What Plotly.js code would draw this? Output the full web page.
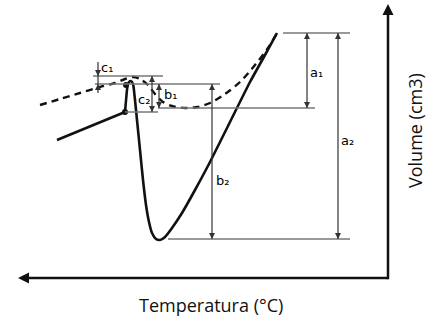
<!DOCTYPE html>
<html><head><meta charset="utf-8">
<script src="https://cdn.plot.ly/plotly-3.0.1.min.js"></script>
<style>html,body{margin:0;padding:0;background:#fff}#chart{width:446px;height:329px}</style>
</head><body><div id="chart"></div>
<script>
// Schematic units (x: temperature position, y: volume position, drawn top-down)
var heatingX = [57,125];
var heatingY = [140,112];
var solidX = [125,126.5,127.5,129,131,133,135,137,140,143,146,149,152,156,160,165,172,182,195,210,230,250,265,277];
var solidY = [112,95,86,82,81,84,100,120,150,180,205,222,233,239,240,237,228,213,190,162,122,82,55,33];
var dashX = [40,60,80,100,115,125,133,140,148,155,163,172,185,198,210,225,240,255,268,277];
var dashY = [105,99,93,87,83,79,77,79,85,94,102,106,108,107,103,94,82,65,48,33];
var dotX = [125,126];
var dotY = [112,85];
// reference levels: y, xStart, xEnd
var levelY  = [33, 108, 239, 76, 84, 112];
var levelX0 = [283, 158, 168, 93, 95, 125];
var levelX1 = [350, 315, 350, 163, 220, 158];
// dimension arrows: x, yTop, yBottom
var dimNames = ['a\u2081','a\u2082','b\u2081','b\u2082','c\u2082'];
var dimX   = [307, 338, 159, 212, 152];
var dimTop = [33, 33, 84, 84, 76];
var dimBot = [108, 239, 108, 239, 112];
var labelX = [316, 347, 170, 222, 144];
var labelY = [72, 140, 94, 180, 99];
var c1Name = 'c\u2081', c1X = 98, c1Top = [62, 76], c1Bot = [93, 84], c1Label = [107, 67];
var axisCorner = [388, 278], axisXEnd = 18, axisYEnd = 4;
var xTitle = 'Temperatura (°C)', yTitle = 'Volume (cm3)';

var dark = '#111', grey = '#777', dimCol = '#333';
var traces = [
  {x: heatingX, y: heatingY, mode:'lines', line:{color:dark, width:2.6}},
  {x: solidX, y: solidY, mode:'lines', line:{color:dark, width:2.6, shape:'spline', smoothing:0.6}},
  {x: dashX, y: dashY, mode:'lines', line:{color:dark, width:2.4, dash:'7px,5px', shape:'spline', smoothing:0.8}},
  {x: dotX, y: dotY, mode:'markers', marker:{color:dark, size:6}}
];
var shapes = [];
for (var i=0;i<levelY.length;i++){
  shapes.push({type:'line', xref:'x', yref:'y', x0:levelX0[i], x1:levelX1[i], y0:levelY[i], y1:levelY[i], line:{color:grey, width:1.5}});
}
var upX=[], upY=[], downX=[], downY=[];
for (var j=0;j<dimX.length;j++){
  shapes.push({type:'line', xref:'x', yref:'y', x0:dimX[j], x1:dimX[j], y0:dimTop[j], y1:dimBot[j], line:{color:dimCol, width:1.2}});
  upX.push(dimX[j]); upY.push(dimTop[j]);
  downX.push(dimX[j]); downY.push(dimBot[j]);
}
shapes.push({type:'line', xref:'x', yref:'y', x0:c1X, x1:c1X, y0:c1Top[0], y1:c1Bot[0], line:{color:dimCol, width:1.2}});
downX.push(c1X); downY.push(c1Top[1]);
upX.push(c1X); upY.push(c1Bot[1]);
// axes
shapes.push({type:'line', xref:'x', yref:'y', x0:axisXEnd+6, x1:axisCorner[0], y0:axisCorner[1], y1:axisCorner[1], line:{color:dark, width:2.5}});
shapes.push({type:'line', xref:'x', yref:'y', x0:axisCorner[0], x1:axisCorner[0], y0:axisCorner[1]+1.2, y1:axisYEnd+6, line:{color:dark, width:2.5}});

traces.push({x:upX, y:upY, mode:'markers', marker:{symbol:'arrow-up', size:6, color:dimCol, line:{width:0}}});
traces.push({x:downX, y:downY, mode:'markers', marker:{symbol:'arrow-down', size:6, color:dimCol, line:{width:0}}});
traces.push({x:[axisXEnd], y:[axisCorner[1]], mode:'markers', marker:{symbol:'arrow-left', size:11, color:dark, line:{width:0}}});
traces.push({x:[axisCorner[0]], y:[axisYEnd], mode:'markers', marker:{symbol:'arrow-up', size:11, color:dark, line:{width:0}}});

var lblFont = {family:'DejaVu Sans, Liberation Sans, Arial', size:13, color:'#000'};
var ann = [];
for (var k=0;k<dimNames.length;k++){
  ann.push({x:labelX[k], y:labelY[k], xref:'x', yref:'y', text:dimNames[k], showarrow:false, font:lblFont});
}
ann.push({x:c1Label[0], y:c1Label[1], xref:'x', yref:'y', text:c1Name, showarrow:false, font:lblFont});
ann.push({x:211, y:305, xref:'x', yref:'y', text:xTitle, showarrow:false, font:{family:'Open Sans, sans-serif', size:18, color:'#111'}});
ann.push({x:415, y:131, xref:'x', yref:'y', text:yTitle, textangle:-90, showarrow:false, font:{family:'Open Sans, sans-serif', size:18, color:'#111'}});

var layout = {
  width:446, height:329, margin:{l:0,r:0,t:0,b:0},
  paper_bgcolor:'#fff', plot_bgcolor:'#fff', showlegend:false,
  xaxis:{range:[0,446], visible:false, fixedrange:true},
  yaxis:{range:[329,0], visible:false, fixedrange:true},
  shapes:shapes, annotations:ann
};
Plotly.newPlot('chart', traces, layout, {staticPlot:true});
</script></body></html>
